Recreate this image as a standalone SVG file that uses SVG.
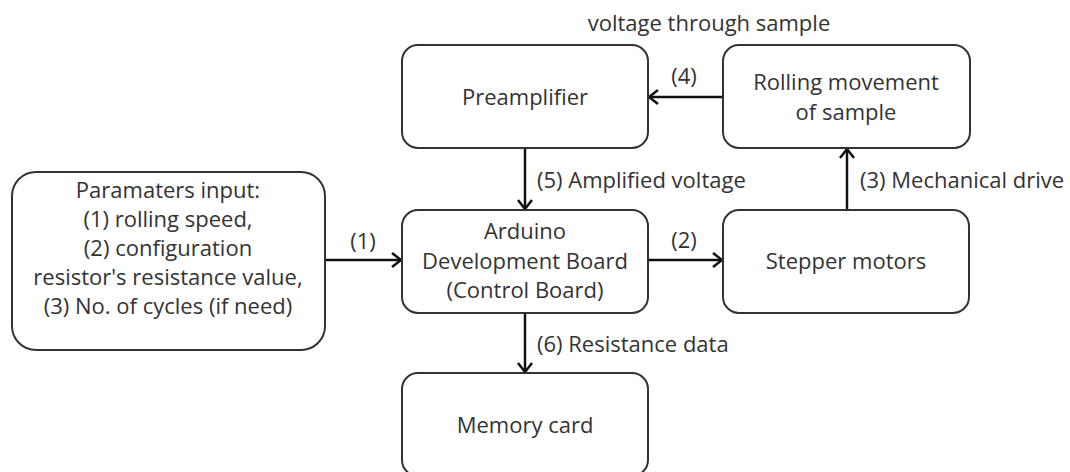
<svg xmlns="http://www.w3.org/2000/svg" width="1070" height="472" viewBox="0 0 1070 472">
<defs>
<style>
.box{fill:#fff;stroke:#333;stroke-width:2}
text{font-family:"Open Sans","Liberation Sans",sans-serif;font-size:22px;fill:#333}
.c{text-anchor:middle}
.arr{fill:none;stroke:#111;stroke-width:2.5}
</style>
<marker id="ah" markerWidth="14" markerHeight="16" refX="11" refY="8" orient="auto" markerUnits="userSpaceOnUse">
<path d="M2,1 L11,8 L2,15" fill="none" stroke="#111" stroke-width="2.5"/>
</marker>
</defs>
<rect width="1070" height="472" fill="#fff"/>
<g id="connectors">
<line class="arr" x1="323" y1="260" x2="401" y2="260" marker-end="url(#ah)"/>
<line class="arr" x1="648" y1="260" x2="722" y2="260" marker-end="url(#ah)"/>
<line class="arr" x1="847" y1="210" x2="847" y2="149" marker-end="url(#ah)"/>
<line class="arr" x1="723" y1="97" x2="649" y2="97" marker-end="url(#ah)"/>
<line class="arr" x1="525" y1="148" x2="525" y2="209" marker-end="url(#ah)"/>
<line class="arr" x1="525" y1="313" x2="525" y2="372" marker-end="url(#ah)"/>
<text class="c" x="363" y="249">(1)</text>
<text class="c" x="684" y="248">(2)</text>
<text x="860" y="188">(3) Mechanical drive</text>
<text class="c" x="684" y="84">(4)</text>
<text x="537" y="188">(5) Amplified voltage</text>
<text x="537" y="352">(6) Resistance data</text>
<text class="c" x="709" y="31">voltage through sample</text>
</g>
<g id="params">
<rect class="box" x="12" y="172" width="313" height="178" rx="24"/>
<text class="c" x="168" y="198">Paramaters input:</text>
<text class="c" x="168" y="227">(1) rolling speed,</text>
<text class="c" x="168" y="256">(2) configuration</text>
<text class="c" x="168" y="285">resistor's resistance value,</text>
<text class="c" x="168" y="314">(3) No. of cycles (if need)</text>
</g>
<g id="preamp">
<rect class="box" x="402" y="45" width="246" height="103" rx="16"/>
<text class="c" x="525" y="105">Preamplifier</text>
</g>
<g id="rolling">
<rect class="box" x="723" y="45" width="247" height="103" rx="16"/>
<text class="c" x="846" y="90">Rolling movement</text>
<text class="c" x="846" y="120">of sample</text>
</g>
<g id="arduino">
<rect class="box" x="402" y="210" width="246" height="103" rx="16"/>
<text class="c" x="525" y="239">Arduino</text>
<text class="c" x="525" y="269">Development Board</text>
<text class="c" x="525" y="298">(Control Board)</text>
</g>
<g id="stepper">
<rect class="box" x="723" y="210" width="246" height="103" rx="16"/>
<text class="c" x="846" y="269">Stepper motors</text>
</g>
<g id="memory">
<rect class="box" x="402" y="373" width="246" height="103" rx="16"/>
<text class="c" x="525" y="433">Memory card</text>
</g>
</svg>
